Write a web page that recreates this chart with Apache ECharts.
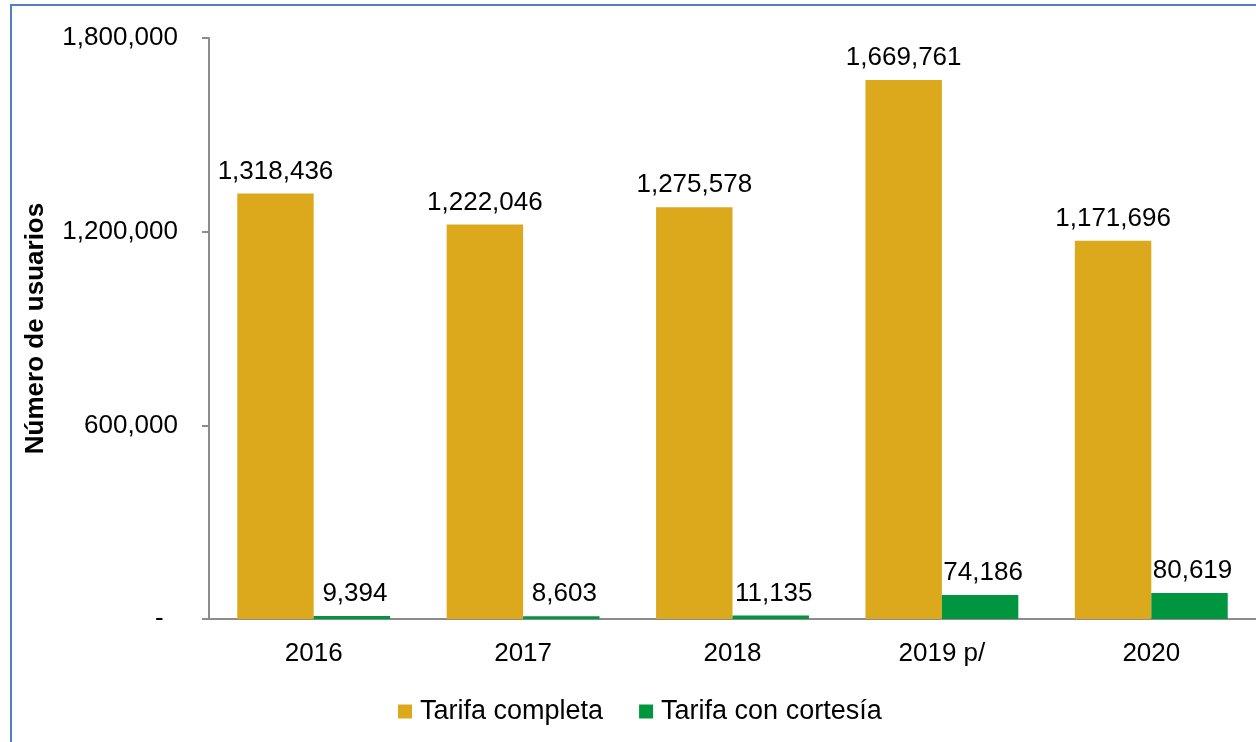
<!DOCTYPE html>
<html>
<head>
<meta charset="utf-8">
<script src="https://cdn.jsdelivr.net/npm/echarts@6/dist/echarts.min.js"></script>
<style>
html,body{margin:0;padding:0;background:#fff;}
#main{width:1256px;height:742px;}
</style>
</head>
<body>
<div id="main"></div>
<script>
const categories = ['2016', '2017', '2018', '2019 p/', '2020'];
const tarifaCompleta = [1318436, 1222046, 1275578, 1669761, 1171696];
const tarifaCortesia = [9394, 8603, 11135, 74186, 80619];
const seriesNames = ['Tarifa completa', 'Tarifa con cortesía'];
const yAxisName = 'Número de usuarios';
const yTicks = { min: 0, max: 1800000, interval: 600000 };

const FONT = '"Liberation Sans", Arial, sans-serif';
const fmt = v => v.toLocaleString('en-US');

const chart = echarts.init(document.getElementById('main'));
chart.setOption({
  animation: false,
  backgroundColor: '#fff',
  textStyle: { fontFamily: FONT },
  graphic: [{
    type: 'rect',
    shape: { x: 11, y: 5, width: 1300, height: 800 },
    style: { fill: 'none', stroke: '#4f81bd', lineWidth: 2 },
    silent: true
  }],
  grid: { left: 209, right: -3, top: 38, bottom: 123, containLabel: false },
  legend: {
    bottom: 12,
    left: 393,
    itemWidth: 14,
    itemHeight: 14,
    itemGap: 36,
    icon: 'rect',
    textStyle: { fontSize: 27, color: '#000', fontFamily: FONT, padding: [0, 0, 0, 3] },
    data: seriesNames
  },
  xAxis: {
    type: 'category',
    data: categories,
    axisLine: { lineStyle: { color: '#8c8c8c', width: 2 } },
    axisTick: { show: false },
    axisLabel: { fontSize: 26, color: '#000', margin: 22, fontFamily: FONT }
  },
  yAxis: {
    type: 'value',
    min: yTicks.min,
    max: yTicks.max,
    interval: yTicks.interval,
    name: yAxisName,
    nameLocation: 'middle',
    nameGap: 160,
    nameTextStyle: { fontSize: 26, fontWeight: 'bold', color: '#000', fontFamily: FONT },
    splitLine: { show: false },
    axisLine: { show: true, lineStyle: { color: '#8c8c8c', width: 2 } },
    axisTick: { show: true, length: 7, lineStyle: { color: '#8c8c8c', width: 2 } },
    axisLabel: {
      fontSize: 26, color: '#000', margin: 31, fontFamily: FONT,
      formatter: v => v === 0 ? '-  ' : fmt(v)
    }
  },
  series: [
    {
      name: seriesNames[0],
      type: 'bar',
      data: tarifaCompleta,
      itemStyle: { color: '#dca81c' },
      barGap: '0%',
      barCategoryGap: '27%',
      label: {
        show: true, position: 'top', distance: 9,
        fontSize: 26, color: '#000', fontFamily: FONT,
        formatter: p => fmt(p.value)
      }
    },
    {
      name: seriesNames[1],
      type: 'bar',
      data: tarifaCortesia,
      itemStyle: { color: '#00963f' },
      label: {
        show: true, position: 'top', distance: 9, offset: [3, 0],
        fontSize: 26, color: '#000', fontFamily: FONT,
        formatter: p => fmt(p.value)
      }
    }
  ]
});
</script>
</body>
</html>
